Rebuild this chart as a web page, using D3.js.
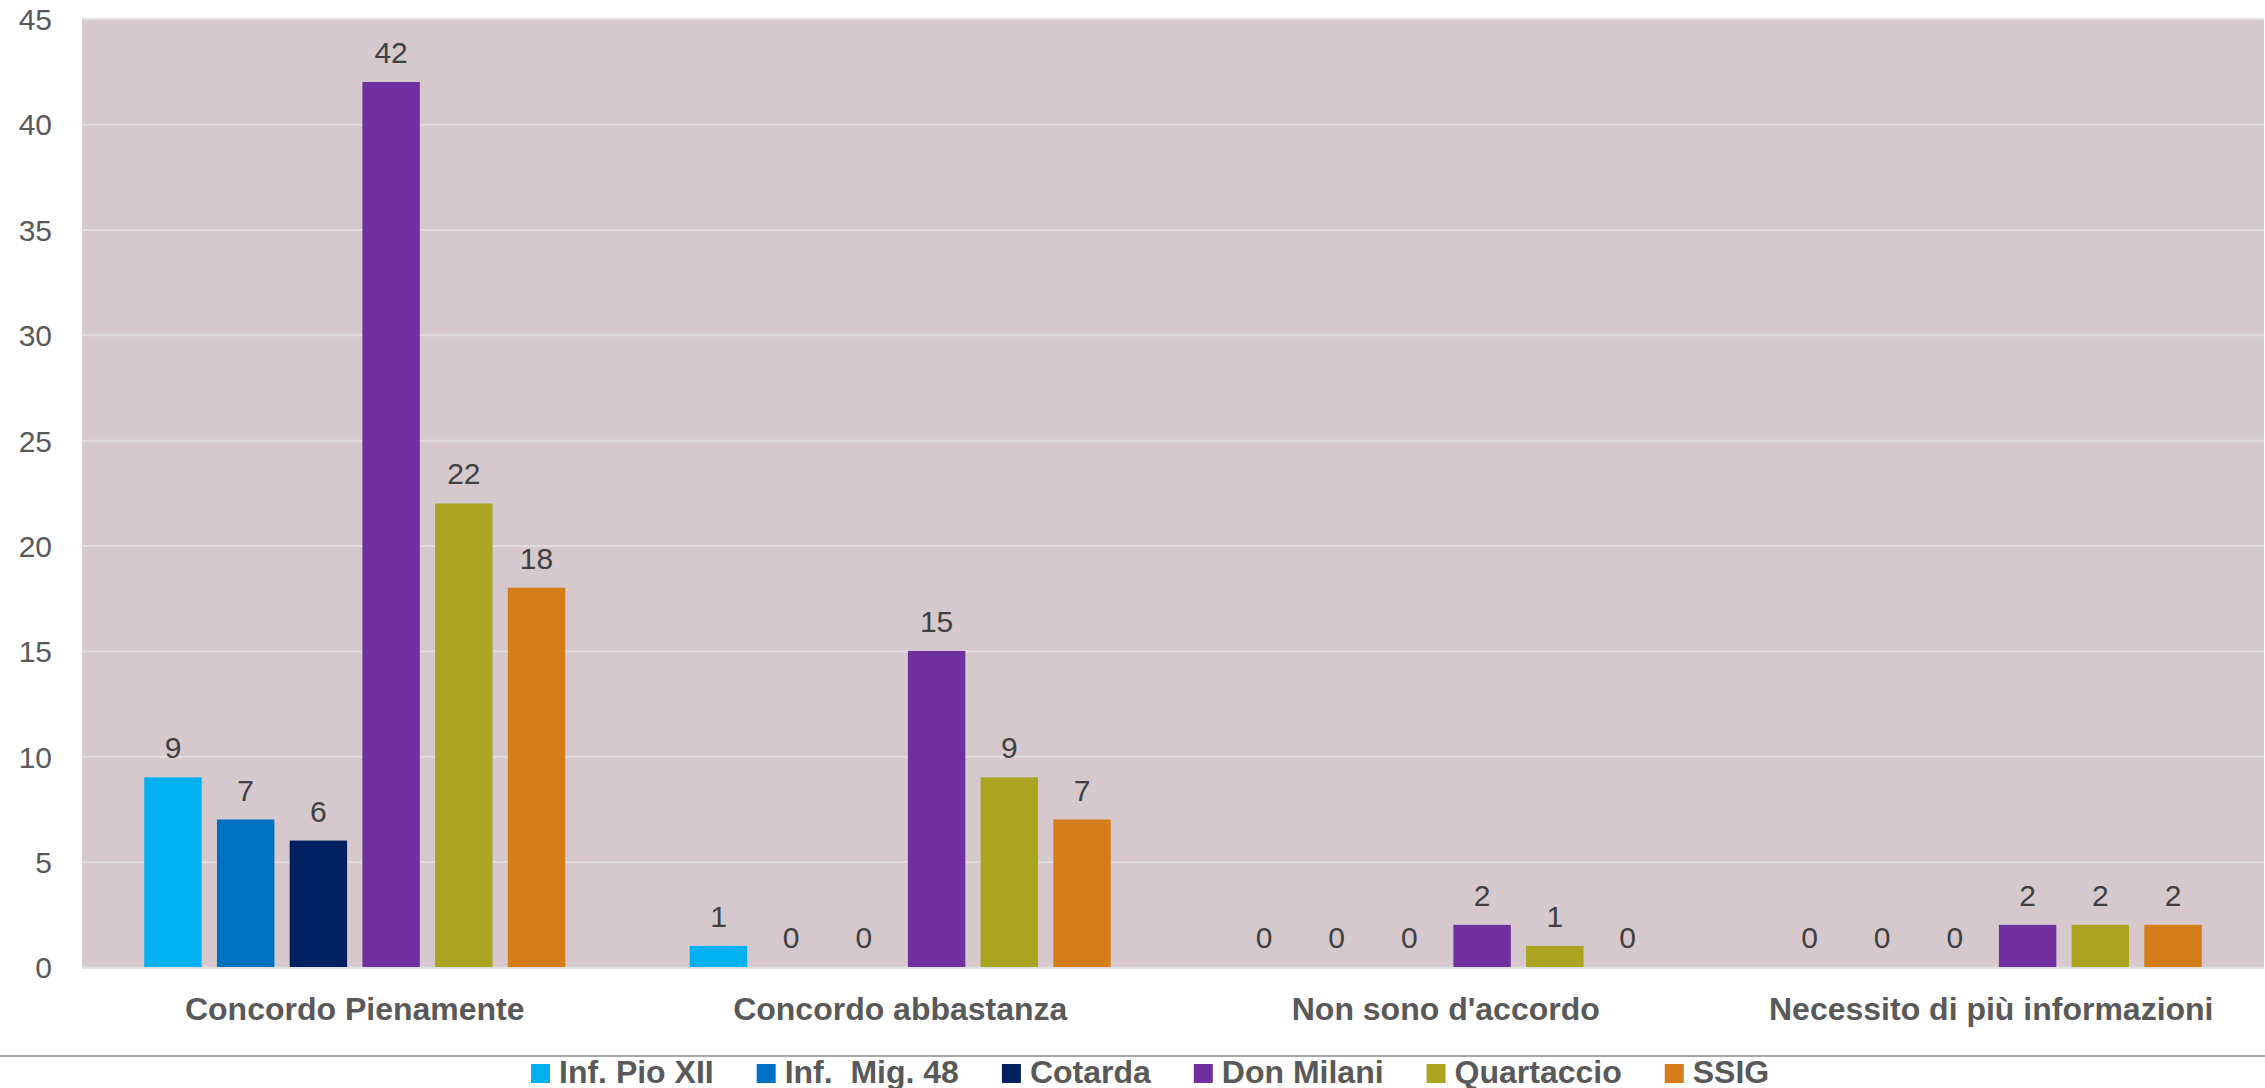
<!DOCTYPE html>
<html>
<head>
<meta charset="utf-8">
<script src="https://cdn.jsdelivr.net/npm/d3@7"></script>
<style>
  html, body { margin: 0; padding: 0; background: #ffffff; }
  svg { display: block; font-family: "Liberation Sans", Arial, Helvetica, sans-serif; }
</style>
</head>
<body>
<svg id="chart" width="2265" height="1088"></svg>
<script>
const categories = ["Concordo Pienamente", "Concordo abbastanza", "Non sono d'accordo", "Necessito di più informazioni"];
const seriesNames = ["Inf. Pio XII", "Inf.  Mig. 48", "Cotarda", "Don Milani", "Quartaccio", "SSIG"];
const seriesColors = ["#00B0F0", "#0070C0", "#002060", "#7030A0", "#ABA420", "#D57D18"];
const infPioXII   = [9, 1, 0, 0];
const infMig48    = [7, 0, 0, 0];
const cotarda     = [6, 0, 0, 0];
const donMilani   = [42, 15, 2, 2];
const quartaccio  = [22, 9, 1, 2];
const ssig        = [18, 7, 0, 2];
const seriesValues = [infPioXII, infMig48, cotarda, donMilani, quartaccio, ssig];
const yTicks = [0, 5, 10, 15, 20, 25, 30, 35, 40, 45];

const svg = d3.select("#chart");
const plot = { left: 82, right: 2264, top: 18.8, bottom: 967 };

const x0 = d3.scaleBand().domain(categories).range([plot.left, plot.right]).padding(0);
const bw = x0.bandwidth();
const x1 = d3.scaleBand().domain(seriesNames)
  .range([bw / 2 - 210.5, bw / 2 + 210.5]).paddingInner(0.21).paddingOuter(0);
const y = d3.scaleLinear().domain([0, 45]).range([plot.bottom, plot.top]);

// background
svg.append("rect")
  .attr("x", plot.left).attr("y", plot.top)
  .attr("width", plot.right - plot.left).attr("height", plot.bottom - plot.top)
  .attr("fill", "#D5C9CE");

// gridlines
const yAxis = d3.axisLeft(y).tickValues(yTicks).tickSize(-(plot.right - plot.left)).tickPadding(30);
const gy = svg.append("g").attr("transform", `translate(${plot.left},0)`).call(yAxis);
gy.select(".domain").remove();
gy.selectAll(".tick line").attr("stroke", "#E2DDDF").attr("stroke-width", 2);
gy.selectAll(".tick text")
  .attr("font-size", 30).attr("fill", "#595959")
  .attr("font-family", "'Liberation Sans', Arial, sans-serif")
  .attr("dy", "0.36em");

// bars
const groups = svg.append("g").selectAll("g")
  .data(categories).join("g")
  .attr("transform", d => `translate(${x0(d)},0)`);

groups.each(function(cat, ci) {
  const g = d3.select(this);
  const data = seriesNames.map((s, si) => ({ s, si, v: seriesValues[si][ci] }));
  g.selectAll("rect").data(data.filter(d => d.v > 0)).join("rect")
    .attr("x", d => x1(d.s))
    .attr("y", d => y(d.v))
    .attr("width", x1.bandwidth())
    .attr("height", d => y(0) - y(d.v))
    .attr("fill", d => seriesColors[d.si]);
  g.selectAll("text").data(data).join("text")
    .attr("x", d => x1(d.s) + x1.bandwidth() / 2)
    .attr("y", d => y(d.v) - 19)
    .attr("text-anchor", "middle")
    .attr("font-size", 30)
    .attr("fill", "#404040")
    .text(d => d.v);
});

// zero line
svg.append("line")
  .attr("x1", plot.left).attr("x2", plot.right)
  .attr("y1", y(0) + 1).attr("y2", y(0) + 1)
  .attr("stroke", "#E0E0E0").attr("stroke-width", 2);

// category labels
const xAxis = d3.axisBottom(x0).tickSize(0).tickPadding(0);
const gx = svg.append("g").attr("transform", `translate(0,${plot.bottom})`).call(xAxis);
gx.select(".domain").remove();
gx.selectAll(".tick text")
  .attr("y", 53).attr("dy", 0)
  .attr("font-size", 32).attr("font-weight", "bold").attr("fill", "#595959")
  .attr("font-family", "'Liberation Sans', Arial, sans-serif");

// separator line
svg.append("line")
  .attr("x1", 0).attr("x2", 2265).attr("y1", 1056).attr("y2", 1056)
  .attr("stroke", "#A6A6A6").attr("stroke-width", 2);

// legend
const legend = svg.append("g");
let lx = 531;
seriesNames.forEach((name, i) => {
  const item = legend.append("g");
  item.append("rect")
    .attr("x", lx).attr("y", 1064).attr("width", 19).attr("height", 19)
    .attr("fill", seriesColors[i]);
  const t = item.append("text")
    .attr("x", lx + 28).attr("y", 1083)
    .attr("font-size", 32).attr("font-weight", "bold").attr("fill", "#595959")
    .style("white-space", "pre")
    .text(name);
  const w = t.node().getComputedTextLength();
  lx = lx + 28 + w + 43;
});
</script>
</body>
</html>
